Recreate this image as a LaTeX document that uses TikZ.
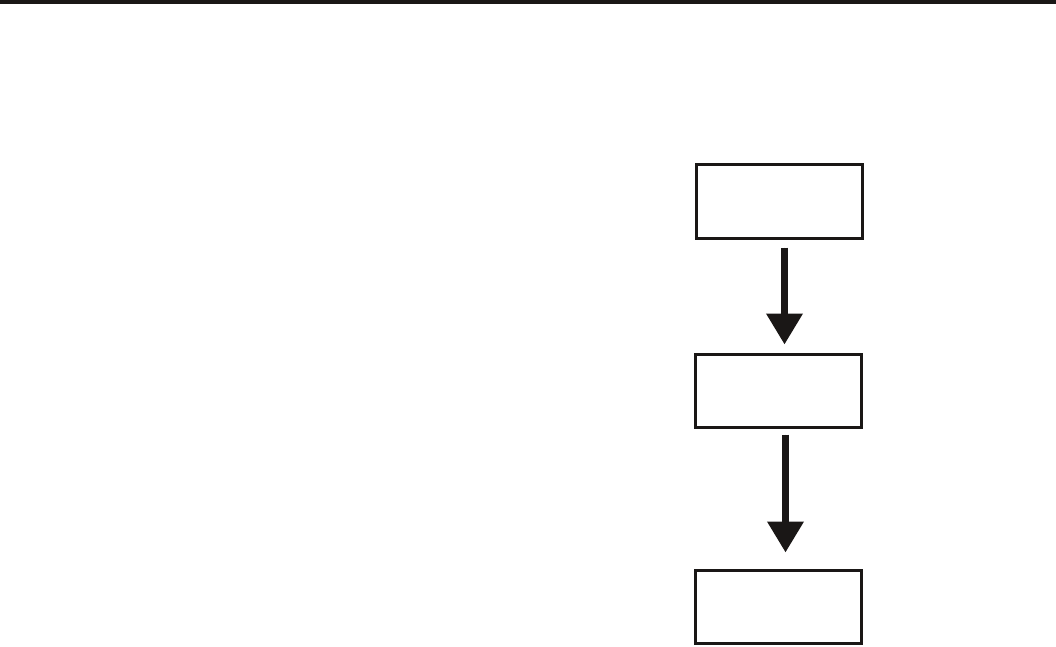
\documentclass[tikz,border=0pt]{standalone}
\usetikzlibrary{arrows.meta}
\definecolor{ink}{RGB}{26,23,22}
\begin{document}
\begin{tikzpicture}[x=1pt,y=-1pt,
  flowbox/.style={draw=ink,line width=3pt,minimum width=166pt,minimum height=74pt,inner sep=0pt,outer sep=0pt},
  flowarrow/.style={draw=ink,line width=7pt,-{Triangle[length=31pt,width=35pt]},fill=ink}]
\useasboundingbox (0,0) rectangle (1056,646);
\fill[ink] (0,0) rectangle (1056,4);
\node[flowbox] (b1) at (779.5,201.5) {};
\node[flowbox,minimum height=73pt] (b2) at (778.5,391) {};
\node[flowbox,minimum height=73pt] (b3) at (778.5,607) {};
\draw[flowarrow,shorten <=9pt,shorten >=10pt] ([xshift=5pt]b1.south) -- ([xshift=6pt]b2.north);
\draw[flowarrow,shorten <=7pt,shorten >=18pt] ([xshift=7pt]b2.south) -- ([xshift=7pt]b3.north);
\end{tikzpicture}
\end{document}
